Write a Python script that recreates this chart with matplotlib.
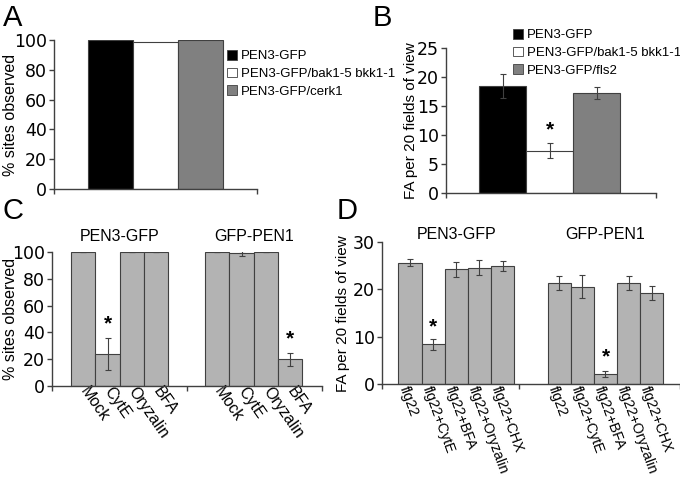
import numpy as np
import matplotlib
matplotlib.use('Agg')
import matplotlib.pyplot as plt
from matplotlib.patches import Patch

plt.rcParams['font.family'] = ['Liberation Sans', 'DejaVu Sans']

# Data
a_labels = ['PEN3-GFP', 'PEN3-GFP/bak1-5 bkk1-1', 'PEN3-GFP/cerk1']
a_values = [100, 98.4, 100]

b_labels = ['PEN3-GFP', 'PEN3-GFP/bak1-5 bkk1-1', 'PEN3-GFP/fls2']
b_values = [18.4, 7.3, 17.2]
b_err = [2.1, 1.3, 1.0]

groups = ['PEN3-GFP', 'GFP-PEN1']
c_ticks = ['Mock', 'CytE', 'Oryzalin', 'BFA']
c_pen3 = [100, 23.9, 100, 100]
c_pen3_err = [0, 11.8, 0, 0]
c_pen1 = [100, 99.0, 100, 19.9]
c_pen1_err = [0, 2.0, 0, 5.1]

d_ticks = ['flg22', 'flg22+CytE', 'flg22+BFA', 'flg22+Oryzalin', 'flg22+CHX']
d_pen3 = [25.65, 8.4, 24.25, 24.6, 24.9]
d_pen3_err = [0.7, 1.2, 1.6, 1.55, 1.1]
d_pen1 = [21.3, 20.6, 2.2, 21.3, 19.3]
d_pen1_err = [1.5, 2.5, 0.65, 1.5, 1.5]

dark = '#404040'
lgray = '#b3b3b3'
mgray = '#808080'
ecolors = ['black', 'white', mgray]

fig = plt.figure(figsize=(6.8, 4.9), dpi=100)
W, H = 680.0, 490.0


def make_ax(left, right, top, bottom):
    return fig.add_axes([left / W, 1 - bottom / H, (right - left) / W, (bottom - top) / H])


def style(ax, xmin, xmax, minor):
    for s in ['top', 'right']:
        ax.spines[s].set_visible(False)
    for s in ['left', 'bottom']:
        ax.spines[s].set_color(dark)
        ax.spines[s].set_linewidth(1)
    ax.set_xlim(xmin, xmax)
    ax.tick_params(axis='y', direction='out', length=3.5, width=1, color=dark, pad=1.5)
    for lab in ax.get_yticklabels():
        lab.set_fontfamily('DejaVu Sans')
        lab.set_fontsize(12.5)
    ax.tick_params(axis='x', which='major', length=0, pad=2)
    ax.set_xticks(minor, minor=True)
    ax.tick_params(axis='x', which='minor', direction='out', length=3.5, width=1, color=dark)


err_kw = dict(ecolor=dark, elinewidth=0.8, capsize=2.5, capthick=0.8)
star_kw = dict(ha='center', va='center', fontsize=15, fontweight='bold')

# ---- A ----
axA = make_ax(54, 257, 40, 189)
xa = np.arange(len(a_values))
axA.bar(xa, a_values, width=1, color=ecolors, edgecolor=dark, linewidth=0.8)
axA.set_ylim(0, 100)
axA.set_yticks(range(0, 101, 20))
axA.set_xticks([])
style(axA, -1.26, 3.26, [-1.26, 3.26])
axA.set_ylabel('% sites observed', fontsize=11.5)
axA.yaxis.set_label_coords(-0.177, 0.5)
axA.legend([Patch(facecolor=c, edgecolor=dark, linewidth=0.6) for c in ecolors], a_labels,
           loc='upper left', bbox_to_anchor=(227 / W, 1 - 50 / H),
           bbox_transform=fig.transFigure, frameon=False, fontsize=9.5,
           handlelength=0.75, handleheight=0.75, handletextpad=0.3,
           labelspacing=0.4, borderpad=0, borderaxespad=0)

# ---- B ----
axB = make_ax(445.7, 655.7, 47.7, 193.3)
xb = np.arange(len(b_values))
axB.bar(xb, b_values, width=1, color=ecolors, edgecolor=dark, linewidth=0.8,
        yerr=b_err, error_kw=err_kw)
axB.set_ylim(0, 25)
axB.set_yticks(range(0, 26, 5))
axB.set_xticks([])
style(axB, -1.22, 3.26, [-1.22, 3.26])
axB.set_ylabel('FA per 20 fields of view', fontsize=11)
axB.yaxis.set_label_coords(-0.132, 0.5)
axB.text(xb[1], 10.9, '*', **star_kw)
axB.legend([Patch(facecolor=c, edgecolor=dark, linewidth=0.6) for c in ecolors], b_labels,
           loc='upper left', bbox_to_anchor=(513 / W, 1 - 29 / H),
           bbox_transform=fig.transFigure, frameon=False, fontsize=9.5,
           handlelength=0.75, handleheight=0.75, handletextpad=0.3,
           labelspacing=0.4, borderpad=0, borderaxespad=0)

# ---- C ----
axC = make_ax(51.7, 321.7, 252, 386)
xc1 = np.arange(4)
xc2 = xc1 + 5.5
axC.bar(xc1, c_pen3, width=1, color=lgray, edgecolor=dark, linewidth=0.8,
        yerr=c_pen3_err, error_kw=err_kw)
axC.bar(xc2, c_pen1, width=1, color=lgray, edgecolor=dark, linewidth=0.8,
        yerr=c_pen1_err, error_kw=err_kw)
axC.set_ylim(0, 100)
axC.set_yticks(range(0, 101, 20))
axC.set_xticks(np.concatenate([xc1, xc2]))
axC.set_xticklabels(c_ticks + c_ticks, rotation=-55, ha='left', va='center',
                    rotation_mode='anchor', fontsize=11.5)
style(axC, -1.29, 9.79, [-1.29, 4.25, 9.79])
axC.set_ylabel('% sites observed', fontsize=11.5)
axC.yaxis.set_label_coords(-0.125, 0.5)
axC.text(xc1[1], 46, '*', **star_kw)
axC.text(xc2[3], 35, '*', **star_kw)
tC = axC.get_xaxis_transform()
axC.text(xc1.mean(), 1.115, groups[0], transform=tC, ha='center', va='center', fontsize=11.5)
axC.text(xc2.mean(), 1.115, groups[1], transform=tC, ha='center', va='center', fontsize=11.5)

# ---- D ----
axD = make_ax(381.7, 680, 242, 384.3)
xd1 = np.arange(5)
xd2 = xd1 + 6.45
axD.bar(xd1, d_pen3, width=1, color=lgray, edgecolor=dark, linewidth=0.8,
        yerr=d_pen3_err, error_kw=err_kw)
axD.bar(xd2, d_pen1, width=1, color=lgray, edgecolor=dark, linewidth=0.8,
        yerr=d_pen1_err, error_kw=err_kw)
axD.set_ylim(0, 30)
axD.set_yticks(range(0, 31, 10))
# labels start a little left of the bar centres (major ticks are hidden)
axD.set_xticks(np.concatenate([xd1, xd2]) - 0.3)
axD.set_xticklabels(d_ticks + d_ticks, rotation=-70, ha='left', va='center',
                    rotation_mode='anchor', fontsize=10.3)
style(axD, -1.22, 11.67, [-1.22, 4.72, 11.67])
axD.set_ylabel('FA per 20 fields of view', fontsize=11)
axD.yaxis.set_label_coords(-0.106, 0.5)
axD.text(xd1[1], 12.0, '*', **star_kw)
axD.text(xd2[2], 5.8, '*', **star_kw)
tD = axD.get_xaxis_transform()
axD.text(xd1.mean(), 1.05, groups[0], transform=tD, ha='center', va='center', fontsize=11.5)
axD.text(xd2.mean(), 1.05, groups[1], transform=tD, ha='center', va='center', fontsize=11.5)

# Panel letters
for letter, x, y in [('A', 3, 4), ('B', 373, 4), ('C', 2, 197), ('D', 337, 197)]:
    fig.text(x / W, 1 - y / H, letter, ha='left', va='top', fontsize=21)

fig.savefig('out.png', dpi=100)
